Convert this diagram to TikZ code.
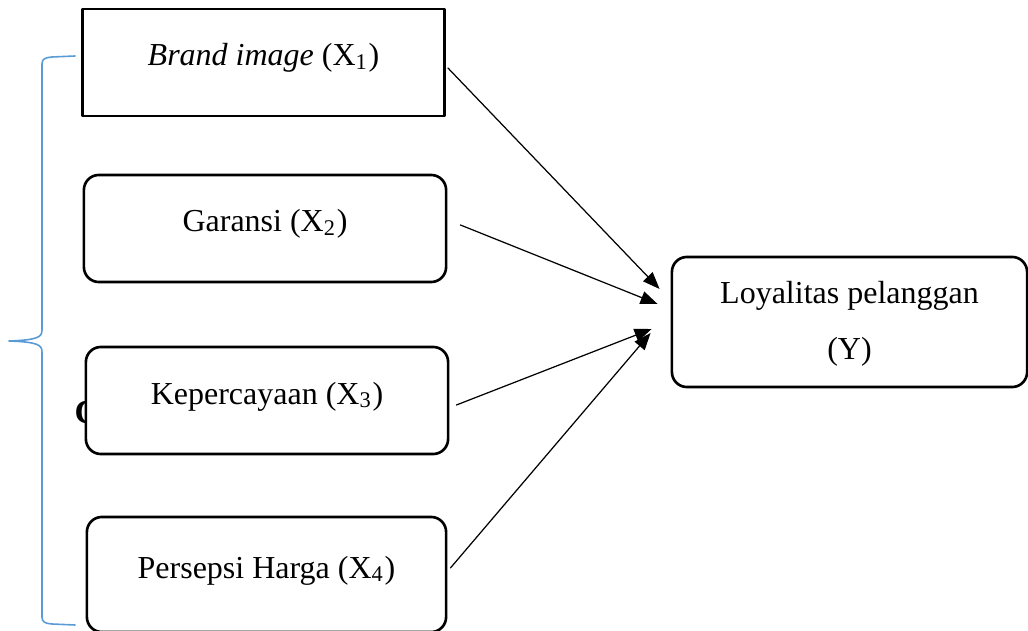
\documentclass[tikz,border=0pt]{standalone}
\usepackage{fontspec}
\setmainfont{Liberation Serif}
\usetikzlibrary{arrows.meta}
\definecolor{bracecol}{HTML}{5B9BD5}
\begin{document}
\begin{tikzpicture}[x=0.01cm,y=-0.01cm,line join=round,line cap=round,font=\fontsize{9.1pt}{15.9pt}\selectfont,
		blk/.style={draw,line width=0.75pt,fill=white,minimum width=3.62cm,minimum height=1.07cm},
		box/.style={blk,text height=0.22cm,text depth=0.15cm},
		rbox/.style={box,rounded corners=0.15cm},
		conn/.style={-{Triangle[length=0.17cm,width=0.13cm]},line width=0.35pt}]
			\useasboundingbox (0,0) rectangle (1028,631);
			\node[font=\fontsize{9.6pt}{11pt}\selectfont\bfseries,anchor=base west,inner sep=0pt] (c) at (74,423) {C};
			\node[box] (x1) at (263.5,62.5) {\textit{Brand image} (X\textsubscript{1})};
			\node[rbox] (x2) at (265,228.5) {Garansi (X\textsubscript{2})};
			\node[rbox] (x3) at (267,400.5) {Kepercayaan (X\textsubscript{3})};
			\node[rbox,minimum width=3.59cm,minimum height=1.15cm] (x4) at (266.5,574.5) {Persepsi Harga (X\textsubscript{4})};
			\node[blk,rounded corners=0.15cm,align=center,minimum width=3.55cm,minimum height=1.30cm] (y) at (849.5,322) {\rule{0pt}{0.25cm}Loyalitas pelanggan\\(Y)};
			\draw[bracecol,line width=0.45pt] (75,56) -- (52,57) .. controls (45,57.5) and (42,59) .. (42,64) -- (42,330)
				.. controls (42,337) and (38,340) .. (9,341) .. controls (38,342) and (42,345) .. (42,352) -- (42,617)
				.. controls (42,622) and (45,623.5) .. (52,624) -- (75,625);
			\foreach \s/\a/\b/\c/\d in {x1/2/5.5/-11/-33, x2/13/-3.5/-13/-18, x3/7/4.5/-19/7, x4/3/-6.5/-20/11}{
				\draw[conn] ([shift={(\a,\b)}]\s.east) -- ([shift={(\c,\d)}]y.west);
			}
\end{tikzpicture}
\end{document}
